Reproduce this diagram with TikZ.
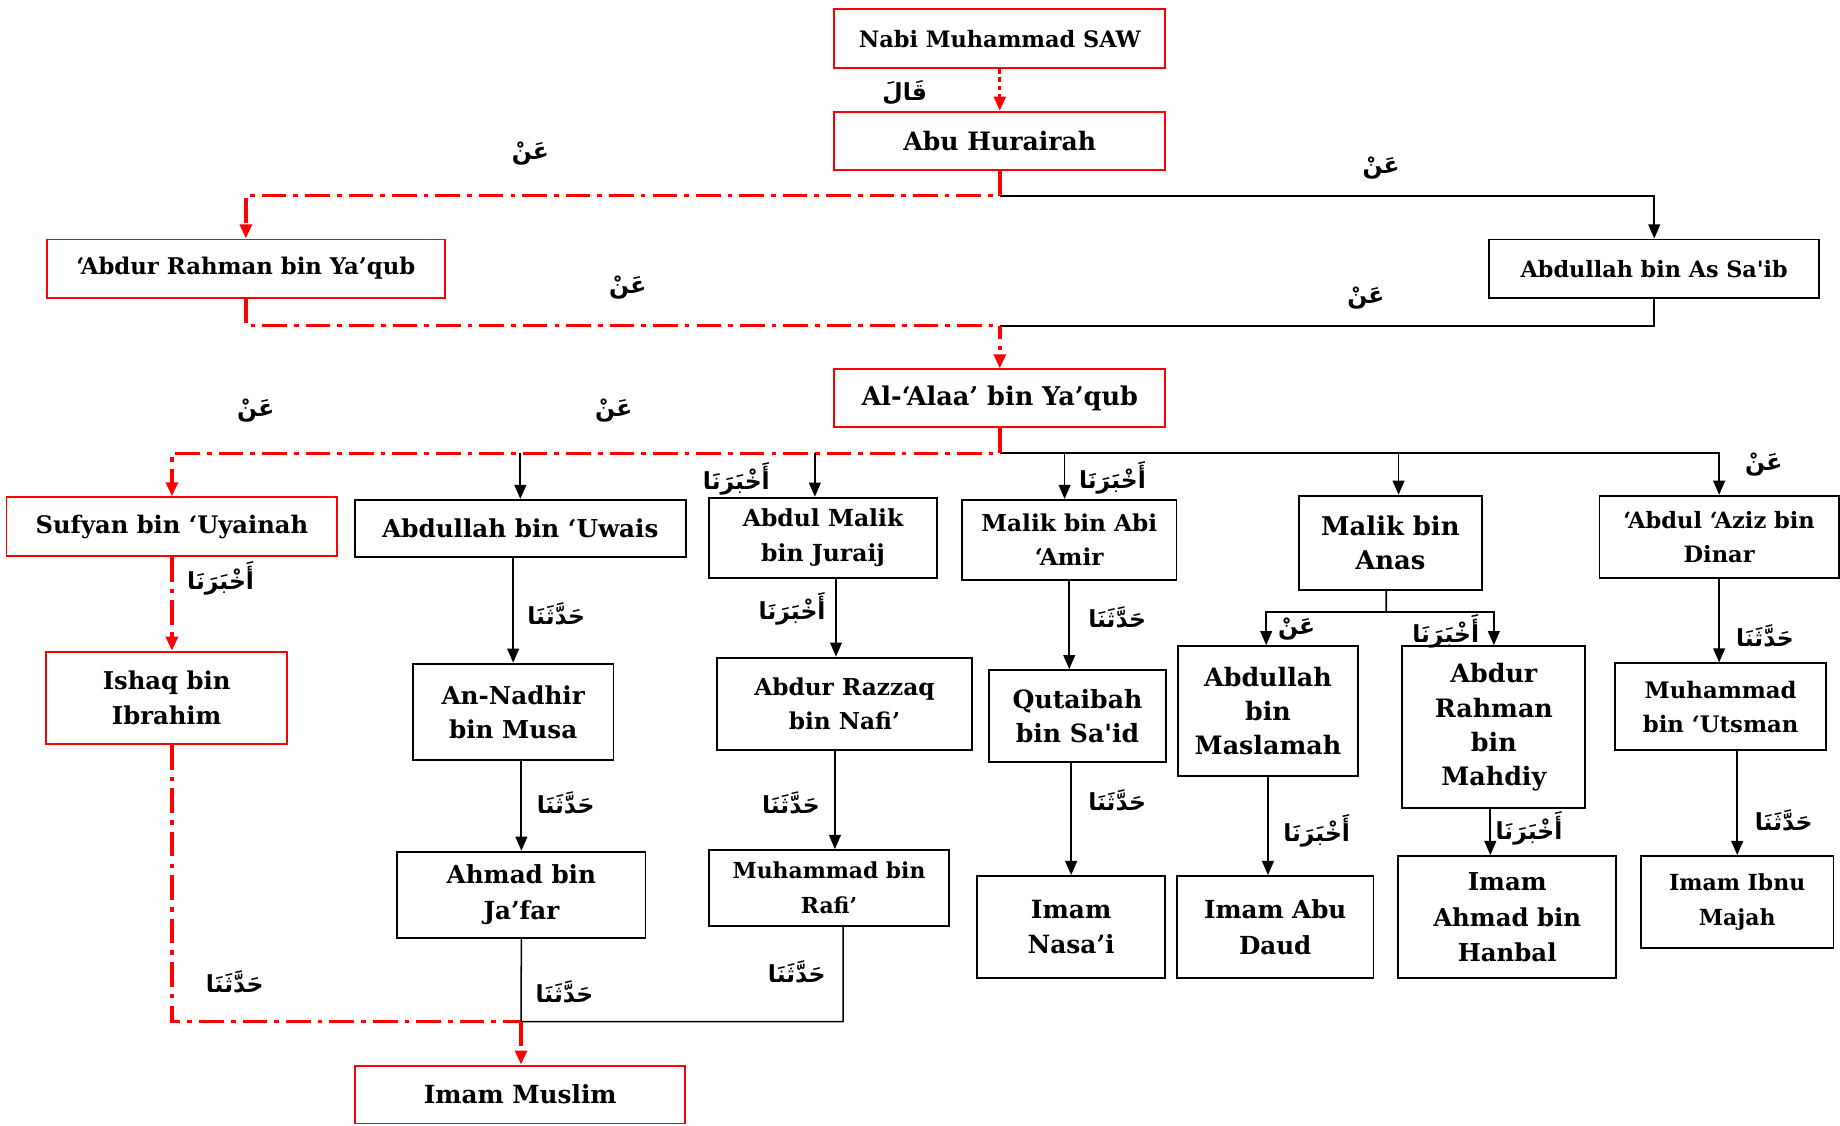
\documentclass[tikz,border=0pt]{standalone}
\usepackage{fontspec}
\usetikzlibrary{arrows.meta}
\TeXXeTstate=1
\newfontfamily\arabicfont[Script=Arabic]{DejaVu Sans}
\newfontfamily\wfont{DejaVu Serif}
\newfontfamily\cfont[FakeStretch=1.1]{DejaVu Serif Condensed}
\newcommand\artxt[1]{{\arabicfont\bfseries\beginR#1\endR}}
\definecolor{rd}{RGB}{255,0,0}

\begin{document}
\begin{tikzpicture}[x=1pt,y=-1pt,
  base/.style={rectangle, inner sep=0pt, align=center, line width=1.6pt, text=black},
  rbox/.style={base, draw=rd},
  kbox/.style={base, draw=black},
  sz/.style 2 args={minimum width=#1pt, minimum height=#2pt},
  cf/.style={font=\cfont\bfseries\fontsize{#1}{30}\selectfont},
  wf/.style={font=\wfont\bfseries\fontsize{#1}{29}\selectfont},
  lab/.style={inner sep=0pt, font=\arabicfont\bfseries\fontsize{20}{24}\selectfont},
  tip/.style={-{Triangle[width=10pt,length=12pt]}},
  blk/.style={draw=black, line width=1.5pt},
  rdd/.style={draw=rd, line width=3pt, dash pattern=on 21pt off 6pt on 4pt off 6pt},
  rdot/.style={draw=rd, line width=2.5pt, dash pattern=on 4pt off 3pt}
]
\useasboundingbox (0,0) rectangle (1568,959);
\fill[white] (0,0) rectangle (1568,959);

% ---- narrators ----
\node[rbox, sz={282}{50.2}, cf=19.3] (nabi) at (852,33.1) {Nabi Muhammad SAW};
\node[rbox, sz={282}{49.7}, cf=21.6] (abu) at (852,120) {Abu Hurairah};
\node[rbox, sz={339}{49.7}, cf=19.6] (abd) at (209.5,228.9) {‘Abdur Rahman bin Ya’qub};
\node[kbox, sz={281.5}{49.7}, cf=19.2] (sai) at (1409.7,228.9) {Abdullah bin As Sa'ib};
\node[rbox, sz={282}{49.3}, cf=22] (alaa) at (852,339.4) {Al-‘Alaa’ bin Ya’qub};

\node[rbox, sz={282}{50}, wf=20.6] (suf) at (146.5,448.8) {Sufyan bin ‘Uyainah};
\node[kbox, sz={281.7}{49}, wf=21] (uwa) at (443.4,450.5) {Abdullah bin ‘Uwais};
\node[kbox, sz={194.7}{68.2}, wf=20] (jur) at (701.4,458.2) {Abdul Malik\\bin Juraij};
\node[kbox, sz={182.8}{68}, wf=19.8] (abi) at (911.2,460) {Malik bin Abi\\‘Amir};
\node[kbox, sz={155.8}{80.4}, wf=22] (ana) at (1184.8,462.6) {Malik bin\\Anas};
\node[kbox, sz={204}{69.9}, wf=19.2] (azi) at (1465,457.4) {‘Abdul ‘Aziz bin\\Dinar};

\node[rbox, sz={205}{78.7}, cf=20.9] (ish) at (142,594.7) {Ishaq bin\\Ibrahim};
\node[kbox, sz={171}{82.4}, wf=21] (nad) at (437.3,606.7) {An-Nadhir\\bin Musa};
\node[kbox, sz={216.8}{79}, wf=19.8] (raz) at (719.6,599.9) {Abdur Razzaq\\bin Nafi’};
\node[kbox, sz={150.8}{78.6}, wf=21.4] (qut) at (918.2,610.3) {Qutaibah\\bin Sa'id};
\node[kbox, sz={154}{110.5}, wf=21.6] (mas) at (1080.5,605.8) {Abdullah\\bin\\Maslamah};
\node[kbox, sz={156}{138.3}, wf=21.6] (mah) at (1273,619.7) {Abdur\\Rahman\\bin\\Mahdiy};
\node[kbox, sz={180.2}{73.8}, wf=19.4] (uts) at (1466.3,602.2) {Muhammad\\bin ‘Utsman};

\node[kbox, sz={211.5}{73.2}, cf=21.2] (jaf) at (444.3,762.4) {Ahmad bin\\Ja’far};
\node[kbox, sz={205}{64.7}, cf=18.8] (raf) at (706.5,756.7) {Muhammad bin\\Rafi’};
\node[kbox, sz={160.5}{87.2}, cf=21.4] (nas) at (912.8,790.1) {Imam\\Nasa’i};
\node[kbox, sz={167.4}{87.2}, cf=21.2] (dau) at (1086.7,790.1) {Imam Abu\\Daud};
\node[kbox, sz={186.1}{104.3}, cf=21] (han) at (1284.4,781.6) {Imam\\Ahmad bin\\Hanbal};
\node[kbox, sz={164}{78.7}, cf=18.9] (maj) at (1480.4,768.8) {Imam Ibnu\\Majah};
\node[rbox, sz={281.5}{49.3}, cf=21.3] (mus) at (443.3,932.7) {Imam Muslim};

% ---- junctions ----
\coordinate (j1) at (852,166.7);
\coordinate (j2) at (852,277.5);
\coordinate (j3) at (852,386.3);
\coordinate (j4) at (1181.4,521.5);
\coordinate (j5) at (444,870.6);

% ---- transmission lines ----
\draw[rdot, tip] (nabi.south) -- (abu.north);
\draw[rdd, tip] (abu.south) -- (j1) -| (abd.north);
\draw[blk, tip] (j1) -| (sai.north);
\draw[rdd] (abd.south) |- (j2);
\draw[blk] (sai.south) |- (j2);
\draw[rdd, tip, dash phase=10pt] (j2) -- (alaa.north);

\draw[blk, tip] (j3) -| (azi.north);
\draw[rdd, tip] (alaa.south) -- (j3) -| (suf.north);
\draw[blk, tip] (uwa.north |- j3) -- (uwa.north);
\draw[blk, tip] ([xshift=-7pt]jur.north |- j3) -- ([xshift=-7pt]jur.north);
\draw[blk, tip] ([xshift=-4pt]abi.north |- j3) -- ([xshift=-4pt]abi.north);
\draw[blk, tip] ([xshift=7pt]ana.north |- j3) -- ([xshift=7pt]ana.north);

\draw[rdd, tip] (suf.south) -- (suf.south |- ish.north);
\draw[blk, tip] (nad.north |- uwa.south) -- (nad.north);
\draw[blk, tip] (jaf.north |- nad.south) -- (jaf.north);
\draw[blk, tip] ([xshift=11pt]jur.south) -- ([xshift=11pt]jur.south |- raz.north);
\draw[blk, tip] ([xshift=5pt]raf.north |- raz.south) -- ([xshift=5pt]raf.north);
\draw[blk, tip] (abi.south) -- (abi.south |- qut.north);
\draw[blk, tip] (nas.north |- qut.south) -- (nas.north);

\draw[blk] ([xshift=-3.4pt]ana.south) -- (j4);
\draw[blk, tip] (j4) -| ([xshift=-1.5pt]mas.north);
\draw[blk, tip] (j4) -| (mah.north);
\draw[blk, tip] (mas.south) -- (mas.south |- dau.north);
\draw[blk, tip] ([xshift=-3pt]mah.south) -- ([xshift=-3pt]mah.south |- han.north);
\draw[blk, tip] (azi.south) -- (azi.south |- uts.north);
\draw[blk, tip] (maj.north |- uts.south) -- (maj.north);

\draw[rdd] (suf.south |- ish.south) |- (j5);
\draw[blk, line width=1.3pt] (jaf.south) -- (j5) -- ([xshift=12pt]raf.south |- j5) -- ([xshift=12pt]raf.south);
\draw[rdd, tip] (j5) -- (j5 |- mus.north);

% ---- transmission terms ----
\node[lab] (t1) at (771,79) {\artxt{قَالَ}};
\node[lab] (t2) at (452,131) {\artxt{عَنْ}};
\node[lab] (t3) at (1177,143) {\artxt{عَنْ}};
\node[lab] (t4) at (535,245) {\artxt{عَنْ}};
\node[lab] (t5) at (1164,254) {\artxt{عَنْ}};
\node[lab] (t6) at (218,350) {\artxt{عَنْ}};
\node[lab] (t7) at (523,350) {\artxt{عَنْ}};
\node[lab] (t8) at (627.5,408) {\artxt{أَخْبَرَنَا}};
\node[lab] (t9) at (948,407.5) {\artxt{أَخْبَرَنَا}};
\node[lab] (t10) at (1503,396) {\artxt{عَنْ}};
\node[lab] (t11) at (188,493) {\artxt{أَخْبَرَنَا}};
\node[lab] (t12) at (474,523) {\artxt{حَدَّثَنَا}};
\node[lab] (t13) at (675,519) {\artxt{أَخْبَرَنَا}};
\node[lab] (t14) at (952,526) {\artxt{حَدَّثَنَا}};
\node[lab] (t15) at (1105,536) {\artxt{عَنْ}};
\node[lab] (t16) at (1232,538) {\artxt{أَخْبَرَنَا}};
\node[lab] (t17) at (1504,542) {\artxt{حَدَّثَنَا}};
\node[lab] (t18) at (482,684) {\artxt{حَدَّثَنَا}};
\node[lab] (t19) at (674,684) {\artxt{حَدَّثَنَا}};
\node[lab] (t20) at (952,682) {\artxt{حَدَّثَنَا}};
\node[lab] (t21) at (1122,708) {\artxt{أَخْبَرَنَا}};
\node[lab] (t22) at (1303,706) {\artxt{أَخْبَرَنَا}};
\node[lab] (t23) at (1520,699) {\artxt{حَدَّثَنَا}};
\node[lab] (t24) at (200,837) {\artxt{حَدَّثَنَا}};
\node[lab] (t25) at (481,845) {\artxt{حَدَّثَنَا}};
\node[lab] (t26) at (679,828) {\artxt{حَدَّثَنَا}};
\end{tikzpicture}
\end{document}
